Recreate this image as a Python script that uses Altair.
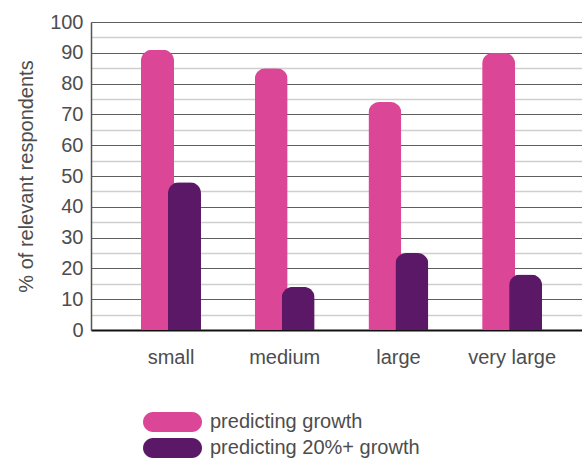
import altair as alt
import pandas as pd

# Company size groups and the share of respondents in each
categories = ["small", "medium", "large", "very large"]
predicting_growth = [91, 85, 74, 90]
predicting_growth_20 = [48, 14, 25, 18]
series_names = ["predicting growth", "predicting 20%+ growth"]
series_colors = ["#DB4697", "#5B1866"]
y_ticks = list(range(0, 101, 5))

rows = []
for cat, g, g20 in zip(categories, predicting_growth, predicting_growth_20):
    rows.append({"size": cat, "series": series_names[0], "pct": g})
    rows.append({"size": cat, "series": series_names[1], "pct": g20})
df = pd.DataFrame(rows)

TEXT = "#4d4d4d"
FONT = "Liberation Sans"

# pill-shaped legend swatch; path units are scaled by sqrt(symbolSize)/2
PILL = "M 0 -1 L 3.9 -1 A 1 1 0 0 1 3.9 1 L 0 1 A 1 1 0 0 1 0 -1 Z"

x_enc = alt.X(
    "size:N",
    sort=categories,
    scale=alt.Scale(paddingInner=0, paddingOuter=0.159, align=0.64),
    axis=alt.Axis(
        title=None, labelAngle=0, ticks=False, grid=False,
        domainColor="#111111", domainWidth=2,
        labelFontSize=20, labelColor=TEXT, labelPadding=17, labelFont=FONT,
    ),
)

y_enc = alt.Y(
    "pct:Q",
    scale=alt.Scale(domain=[0, 100], nice=False),
    axis=alt.Axis(
        title="% of relevant respondents",
        values=y_ticks,
        labelExpr="datum.value % 10 === 0 ? datum.label : ''",
        gridColor={"condition": {"test": "datum.value % 10 === 0", "value": "#5e5e5e"},
                   "value": "#cfcfcf"},
        gridWidth={"condition": {"test": "datum.value % 10 === 0", "value": 1},
                   "value": 1.6},
        ticks=False,
        domainColor="#555555", domainWidth=1.5,
        labelFontSize=20, labelColor=TEXT, labelPadding=8, labelFont=FONT,
        titleFontSize=20, titleFontWeight="normal", titleColor=TEXT,
        titleFont=FONT, titlePadding=13,
    ),
)

color_enc = alt.Color(
    "series:N",
    scale=alt.Scale(domain=series_names, range=series_colors),
    legend=alt.Legend(
        title=None, orient="none", legendX=52, legendY=390,
        direction="vertical",
        symbolType=PILL, symbolSize=400, symbolStrokeWidth=0, symbolOpacity=1,
        labelFontSize=20, labelColor=TEXT, labelFont=FONT, labelOffset=47,
        labelLimit=400, rowPadding=6, padding=0,
    ),
)

base = alt.Chart(df).encode(x=x_enc, y=y_enc, color=color_enc)

growth_bars = base.transform_filter(alt.datum.series == series_names[0]).mark_bar(
    width=33, xOffset=-13.5, cornerRadiusTopLeft=11, cornerRadiusTopRight=11
)
growth20_bars = base.transform_filter(alt.datum.series == series_names[1]).mark_bar(
    width=33, xOffset=13.5, cornerRadiusTopLeft=11, cornerRadiusTopRight=11
)

chart = (
    alt.layer(growth_bars, growth20_bars)
    .properties(
        width=491,
        height=308,
        padding={"left": 91, "top": 22, "right": 0, "bottom": 134},
        autosize=alt.AutoSizeParams(type="none"),
    )
    .configure_view(stroke=None)
    .configure(font=FONT, background="white")
)

chart.save("out.html", embed_options={"renderer": "svg", "actions": False})
